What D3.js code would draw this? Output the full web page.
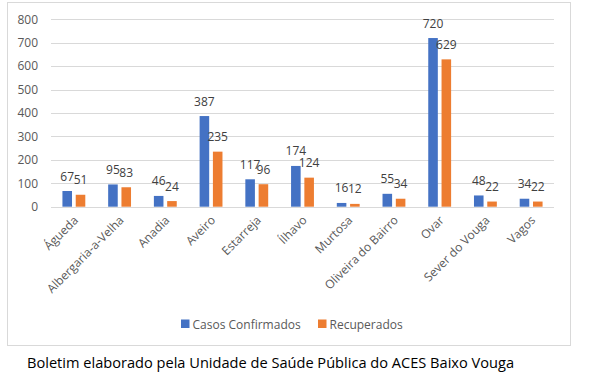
<!DOCTYPE html>
<html>
<head>
<meta charset="utf-8">
<script src="https://cdn.jsdelivr.net/npm/d3@7"></script>
<style>
  body { margin: 0; background: #fff; }
  svg { display: block; font-family: "Open Sans", sans-serif; }
</style>
</head>
<body>
<svg id="chart" width="594" height="380"></svg>
<script>
// data
const concelhos = ["Águeda", "Albergaria-a-Velha", "Anadia", "Aveiro", "Estarreja", "Ílhavo",
    "Murtosa", "Oliveira do Bairro", "Ovar", "Sever do Vouga", "Vagos"];
const confirmados = [67, 95, 46, 387, 117, 174, 16, 55, 720, 48, 34];
const recuperados = [51, 83, 24, 235, 96, 124, 12, 34, 629, 22, 22];
const seriesNames = ["Casos Confirmados", "Recuperados"];
const yTicks = [0, 100, 200, 300, 400, 500, 600, 700, 800];

const colors = ["#4472C4", "#ED7D31"];

let svg = d3.select("#chart");

// outer chart frame
svg.append("rect")
    .attr("x", 7.5).attr("y", 2.5)
    .attr("width", 563).attr("height", 343)
    .attr("fill", "#fff")
    .attr("stroke", "#d9d9d9");

let plotL = 51, plotR = 554, plotT = 19.3, plotB = 206.7;

let x0 = d3.scaleBand()
    .domain(concelhos)
    .range([plotL, plotR])
    .paddingInner(0.5)
    .paddingOuter(0.25);

let x1 = d3.scaleBand()
    .domain([0, 1])
    .range([0, x0.bandwidth()])
    .paddingInner(0.28);

let y = d3.scaleLinear()
    .domain([0, 800])
    .range([plotB, plotT]);

// gridlines
svg.append("g")
    .selectAll("line")
    .data(yTicks)
    .enter()
    .append("line")
    .attr("x1", plotL).attr("x2", plotR)
    .attr("y1", d => Math.round(y(d)) + 0.5)
    .attr("y2", d => Math.round(y(d)) + 0.5)
    .attr("stroke", "#d9d9d9")
    .attr("stroke-width", 1);

// y axis labels
let yAxis = svg.append("g")
    .attr("transform", "translate(" + (plotL - 13) + ",0)")
    .call(d3.axisLeft(y).tickValues(yTicks).tickSize(0).tickPadding(0));
yAxis.select(".domain").remove();
yAxis.selectAll("text")
    .attr("fill", "#595959")
    .attr("font-size", "12px")
    .attr("font-family", "Open Sans, sans-serif");

// bars
let rows = concelhos.map((c, i) => ({ name: c, vals: [confirmados[i], recuperados[i]] }));

let groups = svg.selectAll(".grp")
    .data(rows)
    .enter()
    .append("g")
    .attr("transform", d => "translate(" + x0(d.name) + ",0)");

groups.selectAll("rect")
    .data(d => d.vals.map((v, k) => ({ k: k, v: v })))
    .enter()
    .append("rect")
    .attr("x", d => x1(d.k))
    .attr("y", d => y(d.v))
    .attr("width", x1.bandwidth())
    .attr("height", d => plotB - y(d.v))
    .attr("fill", d => colors[d.k]);

// value labels (they overlap for close values, as in the original)
groups.selectAll("text")
    .data(d => d.vals.map((v, k) => ({ k: k, v: v })))
    .enter()
    .append("text")
    .text(d => d.v)
    .attr("x", d => x1(d.k) + x1.bandwidth() / 2)
    .attr("y", d => y(d.v) - 10.5)
    .attr("text-anchor", "middle")
    .attr("font-size", "12px")
    .attr("fill", "#404040");

// x axis line
svg.append("line")
    .attr("x1", plotL).attr("x2", plotR)
    .attr("y1", Math.round(plotB) + 0.5).attr("y2", Math.round(plotB) + 0.5)
    .attr("stroke", "#d9d9d9");

// x labels
svg.append("g")
    .selectAll("text")
    .data(concelhos)
    .enter()
    .append("text")
    .text(d => d)
    .attr("text-anchor", "end")
    .attr("font-size", "12px")
    .attr("fill", "#595959")
    .attr("transform", d => "translate(" + (x0(d) + x0.bandwidth() / 2 + 5) + ",221) rotate(-45)");

// legend
let legend = svg.append("g");
let legX = [181, 318];
seriesNames.forEach(function(s, k) {
    legend.append("rect")
        .attr("x", legX[k]).attr("y", 319.5)
        .attr("width", 8.5).attr("height", 8.5)
        .attr("fill", colors[k]);
    legend.append("text")
        .attr("x", legX[k] + 11.5).attr("y", 328.5)
        .attr("font-size", "12px")
        .attr("fill", "#595959")
        .text(s);
});

// caption below the chart
svg.append("text")
    .attr("x", 27).attr("y", 368)
    .attr("font-size", "14.6px")
    .attr("fill", "#000")
    .text("Boletim elaborado pela Unidade de Saúde Pública do ACES Baixo Vouga");
</script>
</body>
</html>
